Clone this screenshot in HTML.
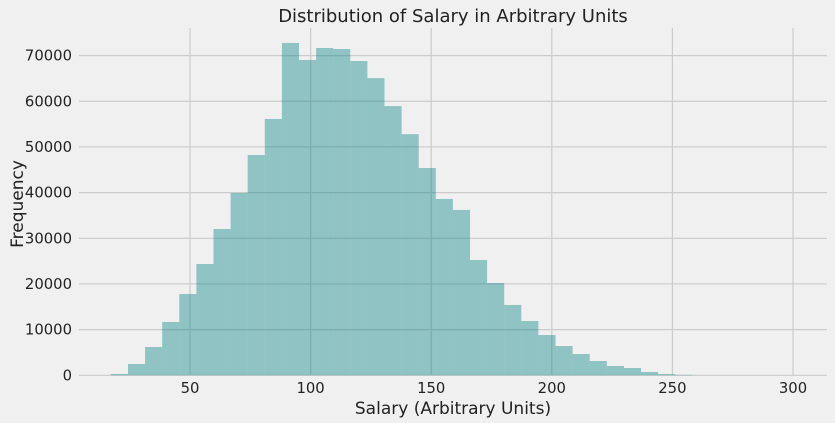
<!DOCTYPE html>
<html><head><meta charset="utf-8"><style>
body{margin:0;background:#f0f0f0;}
svg{display:block;font-family:"DejaVu Sans","Liberation Sans",sans-serif;}
</style></head><body>
<svg id="chart" width="835" height="423">
<rect width="835" height="423" fill="#f0f0f0"/>
<g id="grid"></g><g id="bars"></g><g id="ticks"></g>
<text x="453" y="22" font-size="18" text-anchor="middle" fill="#222">Distribution of Salary in Arbitrary Units</text>
<text x="453" y="414" font-size="17" text-anchor="middle" fill="#222">Salary (Arbitrary Units)</text>
<text transform="translate(23,204) rotate(-90)" font-size="17" text-anchor="middle" fill="#222">Frequency</text>
</svg>
<script>
const binStart = 17.2;
const binWidth = 7.09;
const counts = [300,2470,6200,11670,17800,24370,32030,39920,48240,56120,72770,69040,71670,71450,68820,65080,58950,52800,45390,38610,36200,25250,20210,15400,11890,8820,6410,4660,3130,2040,1600,720,280,100];
const xTicks = [50,100,150,200,250,300];
const yTicks = [0,10000,20000,30000,40000,50000,60000,70000];
const NS="http://www.w3.org/2000/svg";
function xs(v){return 69.4+(v)*2.412;}
function ys(v){return 375.3-v/10000*45.67;}
function mk(t,a,p){const e=document.createElementNS(NS,t);for(const k in a)e.setAttribute(k,a[k]);p.appendChild(e);return e;}
const grid=document.getElementById('grid'),bars=document.getElementById('bars'),ticks=document.getElementById('ticks');
yTicks.forEach(v=>{
  const l=mk('line',{x1:79,x2:827,y1:ys(v),y2:ys(v),stroke:'#cbcbcb','stroke-width':1.2},grid);
  
  
  const t=mk('text',{x:72,y:ys(v)+5,'font-size':14.8,'text-anchor':'end',fill:'#222'},ticks);
  t.textContent=v;
  
  
});
xTicks.forEach(v=>{
  const l=mk('line',{x1:xs(v),x2:xs(v),y1:28,y2:375,stroke:'#cbcbcb','stroke-width':1.2},grid);
  
  
  const t=mk('text',{x:xs(v),y:393,'font-size':14.8,'text-anchor':'middle',fill:'#222'},ticks);
  t.textContent=v;
  
  
});
counts.forEach((c,i)=>{
  const x0=xs(binStart+i*binWidth),x1=xs(binStart+(i+1)*binWidth);
  const r=mk('rect',{x:x0,y:ys(c),width:x1-x0,height:ys(0)-ys(c),fill:'#008080','fill-opacity':0.4},bars);
  
  
});
</script>
</body></html>
